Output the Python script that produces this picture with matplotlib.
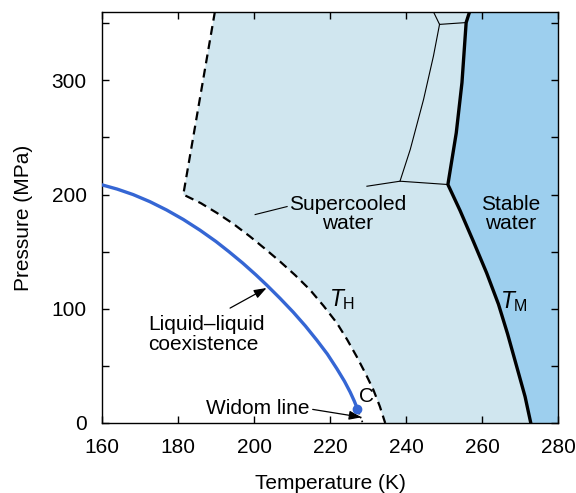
import numpy as np
import matplotlib
matplotlib.use("Agg")
import matplotlib.pyplot as plt
from matplotlib.ticker import MultipleLocator

plt.rcParams["font.family"] = ["Liberation Sans", "DejaVu Sans"]
plt.rcParams["font.size"] = 15
plt.rcParams["mathtext.fontset"] = "custom"
plt.rcParams["mathtext.it"] = "Liberation Sans:italic"
plt.rcParams["mathtext.rm"] = "Liberation Sans"

# Homogeneous nucleation line T_H (K, MPa), from top of plot down to 0 MPa
th_temp = [189.7, 181.4, 186.0, 190.2, 194.5, 198.9, 202.9, 206.8, 210.8, 214.7,
           218.3, 221.8, 224.5, 227.0, 229.3, 231.4, 233.1, 234.5]
th_pres = [360.0, 200.0, 192.5, 184.0, 174.5, 163.4, 152.5, 141.5, 129.5, 116.7,
           102.5, 87.5, 73.0, 58.2, 43.5, 29.0, 14.5, 0.0]

# Melting line T_M (K, MPa), from low to high pressure
tm_temp = [272.8, 271.3, 269.1, 266.7, 264.3, 261.2, 257.7, 254.2, 251.0,
           253.2, 254.7, 255.8, 256.7]
tm_pres = [0.0, 23.1, 49.4, 78.0, 104.0, 131.3, 159.0, 186.0, 208.8,
           254.0, 298.0, 350.6, 360.0]

# Liquid-liquid coexistence line ending at critical point C
ll_temp = [160.0, 164.0, 168.2, 172.6, 177.0, 181.4, 185.8, 190.0, 193.4, 197.0,
           200.5, 203.3, 206.8, 210.3, 213.5, 216.5, 219.3, 221.8, 223.8, 225.3,
           226.4, 227.2]
ll_pres = [208.5, 204.8, 200.0, 193.8, 186.5, 178.2, 168.8, 158.9, 150.0, 140.1,
           129.7, 120.9, 109.3, 97.1, 85.0, 72.6, 60.3, 47.5, 36.5, 27.0,
           19.0, 12.3]
crit_t, crit_p = 227.2, 12.3

# Widom line (short, dotted)
widom_temp = [227.2, 228.6]
widom_pres = [12.3, 0.0]

# Ice phase boundaries inside the supercooled region
ice1_temp = [229.7, 238.4, 251.0]
ice1_pres = [207.3, 211.7, 208.8]
ice2_temp = [238.4, 241.1, 244.6, 247.2, 248.8]
ice2_pres = [211.7, 239.5, 283.3, 321.3, 349.0]
ice3_temp = [248.8, 255.8]
ice3_pres = [349.0, 350.6]
ice4_temp = [248.8, 247.2]
ice4_pres = [349.0, 360.0]

fig = plt.figure(figsize=(5.76, 4.93), dpi=100)
ax = fig.add_axes([0.177, 0.142, 0.792, 0.834])

# shaded regions
ax.fill(th_temp + tm_temp, th_pres + tm_pres, color="#d0e6ef", lw=0, zorder=0)
ax.fill(tm_temp + [280, 280], tm_pres + [360, 0], color="#9dcfee", lw=0, zorder=0)

# lines
ax.plot(th_temp, th_pres, color="black", lw=1.6, ls=(0, (4, 2.5)), zorder=3)
ax.plot(tm_temp, tm_pres, color="black", lw=2.4, zorder=3)
ax.plot(ll_temp, ll_pres, color="#3566d4", lw=2.4, zorder=4)
ax.plot([crit_t], [crit_p], "o", color="#3566d4", ms=6, zorder=5)
ax.plot(widom_temp, widom_pres, color="black", lw=1.2, ls=(0, (1, 1.5)), zorder=3)
for tt, pp in [(ice1_temp, ice1_pres), (ice2_temp, ice2_pres),
               (ice3_temp, ice3_pres), (ice4_temp, ice4_pres)]:
    ax.plot(tt, pp, color="black", lw=0.8, zorder=2)

# labels
ax.text(224.7, 183, "Supercooled\nwater", ha="center", va="center", linespacing=1.05)
ax.plot([200.3, 208.7], [182.5, 189.5], color="black", lw=0.8)
ax.text(267.6, 183, "Stable\nwater", ha="center", va="center", linespacing=1.05)
ax.text(223.2, 108, r"$T_{\mathrm{H}}$", ha="center", va="center", fontsize=16.5)
ax.text(268.4, 106, r"$T_{\mathrm{M}}$", ha="center", va="center", fontsize=16.5)
ax.text(229.5, 23, "C", ha="center", va="center")

arrow = dict(arrowstyle="-|>,head_length=0.5,head_width=0.18", color="black", lw=0.9,
             shrinkA=0, shrinkB=0)
ax.text(172.1, 77.6, "Liquid\u2013liquid\ncoexistence", ha="left", va="center",
        linespacing=1.05)
ax.annotate("", xy=(203.3, 118.2), xytext=(193.7, 100.6), arrowprops=arrow)
ax.annotate("Widom line", xy=(228.3, 5.0), xytext=(214.7, 12.3),
            ha="right", va="center", arrowprops=dict(arrow, relpos=(1, 0.5)))

ax.set_xlim(160, 280)
ax.set_ylim(0, 360)
ax.xaxis.set_major_locator(MultipleLocator(20))
ax.yaxis.set_major_locator(MultipleLocator(100))
ax.yaxis.set_minor_locator(MultipleLocator(50))
ax.tick_params(which="both", direction="in", top=True, right=True, length=5, width=1)
ax.tick_params(axis="x", pad=11)
ax.tick_params(axis="y", pad=11)
for sp in ax.spines.values():
    sp.set_linewidth(1.0)

ax.set_xlabel("Temperature (K)", labelpad=12)
ax.set_ylabel("Pressure (MPa)", labelpad=13)

fig.savefig("out.png", dpi=100)
